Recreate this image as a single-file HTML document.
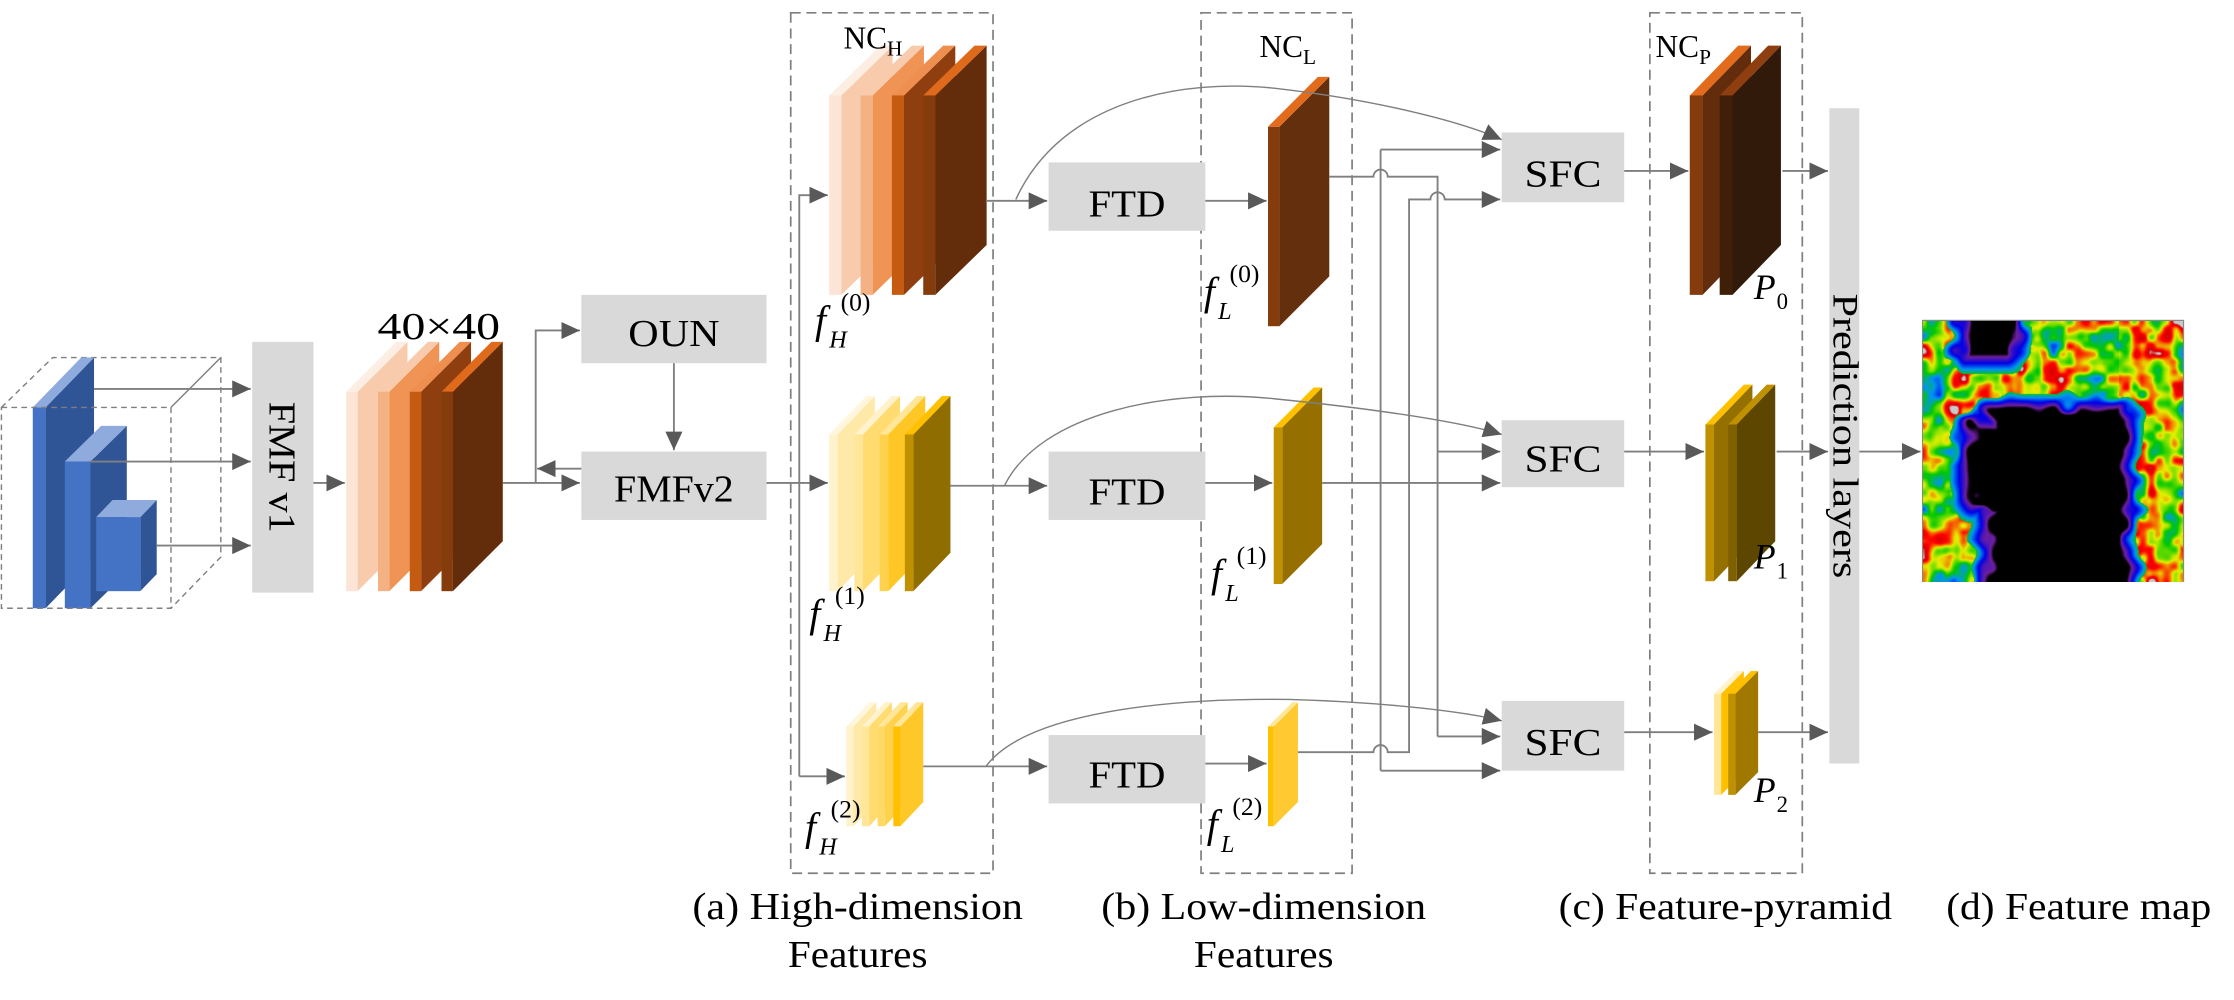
<!DOCTYPE html>
<html><head><meta charset="utf-8"><style>
html,body{margin:0;padding:0;background:#fff;}
#wrap{position:relative;width:2234px;height:1000px;overflow:hidden;}
svg{position:absolute;left:0;top:0;}
canvas{position:absolute;left:1923px;top:321px;width:260px;height:261px;}
text{font-family:"Liberation Serif","Times New Roman",serif;fill:#000;}
</style></head><body><div id="wrap">
<svg id="s" width="2234" height="1000" viewBox="0 0 1568 702" preserveAspectRatio="none" font-family="Liberation Serif, serif">
<defs>
<marker id="a" markerUnits="userSpaceOnUse" markerWidth="14" markerHeight="12" refX="13" refY="6" orient="auto"><path d="M0,0 L13,6 L0,12 z" fill="#595959"/></marker>
</defs>
<g fill="none" stroke="#7f7f7f" stroke-width="1.2" stroke-dasharray="7,4">
<rect x="555" y="9" width="142" height="604"/>
<rect x="843" y="9" width="106" height="604"/>
<rect x="1158" y="9" width="107" height="604"/>
</g>
<g fill="none" stroke="#7f7f7f" stroke-width="1" stroke-dasharray="4,3">
<path d="M1,286 L37,251 H155 V391 L120,427"/>
</g>
<path d="M120,286 L155,251" stroke="#7f7f7f" stroke-width="1" fill="none"/>
<g id="stacks"></g>
<g fill="none" stroke="#7f7f7f" stroke-width="1" stroke-dasharray="4,3"><rect x="1" y="286" width="119" height="141"/></g>
<g fill="#d9d9d9">
<rect x="177" y="240" width="43" height="176"/>
<rect x="408" y="207" width="130" height="48"/>
<rect x="408" y="317" width="130" height="48"/>
<rect x="736" y="114" width="110" height="48"/>
<rect x="736" y="317" width="110" height="48"/>
<rect x="736" y="516" width="110" height="48"/>
<rect x="1054" y="93" width="86" height="49"/>
<rect x="1054" y="295" width="86" height="47"/>
<rect x="1054" y="492" width="86" height="49"/>
<rect x="1284" y="76" width="21" height="460"/>
</g>
<g fill="none" stroke="#7f7f7f" stroke-width="1.3">
<path d="M66,273 H176" marker-end="url(#a)"/>
<path d="M63,324 H176" marker-end="url(#a)"/>
<path d="M110,383 H176" marker-end="url(#a)"/>
<path d="M220,339 H242" marker-end="url(#a)"/>
<path d="M353,339 H407" marker-end="url(#a)"/>
<path d="M376,339 V232 H407" marker-end="url(#a)"/>
<path d="M408,329 H377" marker-end="url(#a)"/>
<path d="M473,255 V316" marker-end="url(#a)"/>
<path d="M538,339 H581" marker-end="url(#a)"/>
<path d="M561,545 V137 H581" marker-end="url(#a)"/>
<path d="M561,545 H593" marker-end="url(#a)"/>
<path d="M692,141 H735" marker-end="url(#a)"/>
<path d="M667,341 H735" marker-end="url(#a)"/>
<path d="M648,538 H735" marker-end="url(#a)"/>
<path d="M846,141 H889" marker-end="url(#a)"/>
<path d="M846,339 H893" marker-end="url(#a)"/>
<path d="M846,536 H889" marker-end="url(#a)"/>
<path d="M713,140 C745,70 830,55 895,62 C965,70 1025,85 1054,98" stroke-width="1" marker-end="url(#a)"/>
<path d="M705,341 C730,290 820,272 895,280 C965,287 1025,296 1054,305" stroke-width="1" marker-end="url(#a)"/>
<path d="M692,538 C720,500 820,490 905,491 C975,493 1030,500 1054,506" stroke-width="1" marker-end="url(#a)"/>
<path d="M933,124 H964 A5,5 0 0 1 974,124 H1009 V517"/>
<path d="M1009,317 H1053" marker-end="url(#a)"/>
<path d="M1009,517 H1053" marker-end="url(#a)"/>
<path d="M928,339 H1053" marker-end="url(#a)"/>
<path d="M969,105 V541"/>
<path d="M969,105 H1053" marker-end="url(#a)"/>
<path d="M969,541 H1053" marker-end="url(#a)"/>
<path d="M911,528 H964 A5,5 0 0 1 974,528 H989 V140 H1004 A5,5 0 0 1 1014,140 H1053" marker-end="url(#a)"/>
<path d="M1140,120 H1185" marker-end="url(#a)"/>
<path d="M1251,120 H1283" marker-end="url(#a)"/>
<path d="M1140,317 H1196" marker-end="url(#a)"/>
<path d="M1247,317 H1283" marker-end="url(#a)"/>
<path d="M1140,514 H1202" marker-end="url(#a)"/>
<path d="M1234,514 H1283" marker-end="url(#a)"/>
<path d="M1305,317 H1348" marker-end="url(#a)"/>
</g>
<rect x="1349.5" y="225" width="183" height="183" fill="none" stroke="#888" stroke-width="1"/>
<g font-size="27">
<text x="265" y="238" textLength="86" lengthAdjust="spacingAndGlyphs">40×40</text>
<text x="473" y="243" text-anchor="middle" textLength="64" lengthAdjust="spacingAndGlyphs">OUN</text>
<text x="473" y="352" text-anchor="middle" textLength="84" lengthAdjust="spacingAndGlyphs">FMFv2</text>
<text x="791" y="152" text-anchor="middle" textLength="54" lengthAdjust="spacingAndGlyphs">FTD</text>
<text x="791" y="354" text-anchor="middle" textLength="54" lengthAdjust="spacingAndGlyphs">FTD</text>
<text x="791" y="553" text-anchor="middle" textLength="54" lengthAdjust="spacingAndGlyphs">FTD</text>
<text x="1097" y="131" text-anchor="middle" textLength="54" lengthAdjust="spacingAndGlyphs">SFC</text>
<text x="1097" y="331" text-anchor="middle" textLength="54" lengthAdjust="spacingAndGlyphs">SFC</text>
<text x="1097" y="530" text-anchor="middle" textLength="54" lengthAdjust="spacingAndGlyphs">SFC</text>
<text transform="translate(189,328) rotate(90)" text-anchor="middle" textLength="92" lengthAdjust="spacingAndGlyphs">FMF v1</text>
<text transform="translate(1287,306) rotate(90)" text-anchor="middle" font-size="25" textLength="200" lengthAdjust="spacingAndGlyphs">Prediction layers</text>
<text x="602" y="645" text-anchor="middle" textLength="232" lengthAdjust="spacingAndGlyphs">(a) High-dimension</text>
<text x="602" y="679" text-anchor="middle" textLength="98" lengthAdjust="spacingAndGlyphs">Features</text>
<text x="887" y="645" text-anchor="middle" textLength="228" lengthAdjust="spacingAndGlyphs">(b) Low-dimension</text>
<text x="887" y="679" text-anchor="middle" textLength="98" lengthAdjust="spacingAndGlyphs">Features</text>
<text x="1211" y="645" text-anchor="middle" textLength="234" lengthAdjust="spacingAndGlyphs">(c) Feature-pyramid</text>
<text x="1459" y="645" text-anchor="middle" textLength="186" lengthAdjust="spacingAndGlyphs">(d) Feature map</text>
</g>
<g font-size="22">
<text x="592" y="34">NC<tspan font-size="15" dy="5">H</tspan></text>
<text x="884" y="40">NC<tspan font-size="15" dy="5">L</tspan></text>
<text x="1162" y="40">NC<tspan font-size="15" dy="5">P</tspan></text>
</g>
<g font-style="italic" font-size="28">
<text x="572" y="234">f</text><text x="582" y="244" font-size="17">H</text><text x="590" y="218" font-size="18" font-style="normal">(0)</text>
<text x="568" y="440">f</text><text x="578" y="450" font-size="17">H</text><text x="586" y="424" font-size="18" font-style="normal">(1)</text>
<text x="565" y="590">f</text><text x="575" y="600" font-size="17">H</text><text x="583" y="574" font-size="18" font-style="normal">(2)</text>
<text x="845" y="214">f</text><text x="855" y="224" font-size="17">L</text><text x="863" y="198" font-size="18" font-style="normal">(0)</text>
<text x="850" y="412">f</text><text x="860" y="422" font-size="17">L</text><text x="868" y="396" font-size="18" font-style="normal">(1)</text>
<text x="847" y="588">f</text><text x="857" y="598" font-size="17">L</text><text x="865" y="572" font-size="18" font-style="normal">(2)</text>
<text x="1231" y="210" font-size="25">P</text><text x="1247" y="217" font-size="16" font-style="normal">0</text>
<text x="1231" y="399" font-size="25">P</text><text x="1247" y="406" font-size="16" font-style="normal">1</text>
<text x="1231" y="563" font-size="25">P</text><text x="1247" y="570" font-size="16" font-style="normal">2</text>
</g>
</svg>
<canvas id="c" width="260" height="261"></canvas>
</div>
<script>
var NS="http://www.w3.org/2000/svg",G=document.getElementById("stacks");
function el(t,a){var e=document.createElementNS(NS,t);for(var k in a)e.setAttribute(k,a[k]);G.appendChild(e);}
function stack(x0,step,w,top,bot,dx,dy,L){L.forEach(function(l,i){var x=x0+i*step;
el("polygon",{points:(x+w)+","+top+" "+(x+w+dx)+","+(top-dy)+" "+(x+w+dx)+","+(bot-dy)+" "+(x+w)+","+bot,fill:l[1]});
el("polygon",{points:x+","+top+" "+(x+dx)+","+(top-dy)+" "+(x+w+dx)+","+(top-dy)+" "+(x+w)+","+top,fill:l[2]});
el("rect",{x:x,y:top,width:w,height:bot-top,fill:l[0]});});}
var OR=[["#fce4d6","#f8cbad","#fdeee4"],["#f4b183","#ef9455","#f8cbad"],["#c55a11","#8f3e10","#ee8f50"],["#843c0c","#632c0b","#e06a1b"]];
var YE=[["#fff2cc","#ffe9a8","#fff7dd"],["#ffe699","#ffdb70","#fff2cc"],["#ffd24d","#ffc726","#ffe699"],["#bf9000","#8f6d00","#ffc000"]];
var YE2=[["#fff2cc","#ffe9a8","#fff7dd"],["#ffe699","#ffdb70","#fff2cc"],["#ffd966","#ffd24d","#ffe699"],["#ffc000","#ffc829","#ffe699"]];
var BL=["#4472c4","#2f5597","#8faadc"];
stack(23,0,9,286,427,34,35,[BL]);
stack(45.5,0,18,324,427,25.5,25,[BL]);
stack(67.5,0,31,363,415,11.5,12,[BL]);
stack(243,22.3,8,275,415,35,35,OR);
stack(582,22,8.5,67,207,36,35,OR);
stack(582,17.7,6,305,415,26,27,YE);
stack(594,11,5,510,580,16,17,YE2);
stack(890,0,8,89,229,35,35,[["#843c0c","#642f0c","#e36c1c"]]);
stack(894,0,6,300,410,28,28,[["#bf9000","#957000","#ffc000"]]);
stack(890,0,4,510,580,17,17,[["#ffc000","#ffc932","#ffe699"]]);
stack(1186,21,9,67,207,34,35,[["#843c0c","#632c0c","#e36c1c"],["#3f1f07","#321a0a","#8f3e10"]]);
stack(1197,16,6,298,408,27,28,[["#bf9000","#947000","#ffc000"],["#7f6000","#5c4600","#bf9000"]]);
stack(1203,10,5,487,558,16,16,[["#ffe699","#ffc000","#fff2cc"],["#bf9000","#a07800","#ffc000"]]);
(function(){var c=document.getElementById("c"),x=c.getContext("2d"),W=260,H=261,im=x.createImageData(W,H);
var s=7;function r(){s=(s*16807)%2147483647;return s/2147483647;}
function grid(n){var g=[];for(var i=0;i<=n;i++){g[i]=[];for(var j=0;j<=n;j++)g[i][j]=r();}return g;}
var g1=grid(8),g2=grid(18),g4=grid(32),g3=grid(5);
function sm(t){return t*t*(3-2*t);}
function vn(g,n,u,v){var X=u*n,Y=v*n,i=Math.min(n-1,Math.floor(X)),j=Math.min(n-1,Math.floor(Y)),a=sm(X-i),b=sm(Y-j);
return (g[i][j]*(1-a)+g[i+1][j]*a)*(1-b)+(g[i][j+1]*(1-a)+g[i+1][j+1]*a)*b;}
var cm=[[0,[0,0,0]],[0.12,[0,0,0]],[0.18,[112,32,160]],[0.3,[0,0,230]],[0.42,[0,150,240]],[0.52,[0,200,0]],[0.62,[230,240,0]],[0.72,[255,0,0]],[0.78,[210,0,0]],[0.8,[200,200,200]],[1,[200,200,200]]];
function col(v){v=Math.max(0,Math.min(1,v));for(var k=1;k<cm.length;k++){if(v<=cm[k][0]){var a=cm[k-1],b=cm[k],t=(v-a[0])/(b[0]-a[0]||1);return [a[1][0]+(b[1][0]-a[1][0])*t,a[1][1]+(b[1][1]-a[1][1])*t,a[1][2]+(b[1][2]-a[1][2])*t];}}return cm[cm.length-1][1];}
function box(u,v,x0,x1,y0,y1){var dx=Math.max(x0-u,u-x1,0),dy=Math.max(y0-v,v-y1,0);return Math.sqrt(dx*dx+dy*dy);}
for(var j=0;j<H;j++)for(var i=0;i<W;i++){var u=i/W,v=j/H;
var n=0.35*vn(g1,8,u,v)+0.35*vn(g2,18,u,v)+0.3*vn(g4,32,u,v);
var val=0.22+0.7*n+0.12*(u>0.75?1:0)*vn(g3,5,u,v);
var pert=0.06*(vn(g2,18,v,u)-0.5);
var d=Math.min(box(u+pert,v+pert,0.27,0.76,0.36,1.1),box(u+pert,v,0.17,0.34,-0.1,0.12),box(u+pert,v+pert,0.2,0.3,0.4,0.7));
if(d<0.08)val=Math.min(val,0.1+d*5);
var c3=col(val),p=(j*W+i)*4;im.data[p]=c3[0];im.data[p+1]=c3[1];im.data[p+2]=c3[2];im.data[p+3]=255;}
x.putImageData(im,0,0);})();
</script>
</body></html>
